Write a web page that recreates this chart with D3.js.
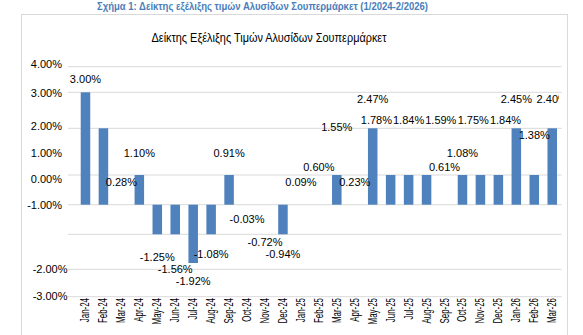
<!DOCTYPE html>
<html>
<head>
<meta charset="utf-8">
<script src="https://cdn.jsdelivr.net/npm/d3@7"></script>
<style>
  html, body { margin: 0; padding: 0; background: #fff; }
  svg { display: block; font-family: "Liberation Sans", Arial, sans-serif; }
</style>
</head>
<body>
<script>
// ---- data ----
const figureTitle = "Σχήμα 1: Δείκτης εξέλιξης τιμών Αλυσίδων Σουπερμάρκετ (1/2024-2/2026)";
const chartTitle = "Δείκτης Εξέλιξης Τιμών Αλυσίδων Σουπερμάρκετ";
const categories = ["Jan-24","Feb-24","Mar-24","Apr-24","May-24","Jun-24","Jul-24","Aug-24","Sep-24","Oct-24","Nov-24","Dec-24",
  "Jan-25","Feb-25","Mar-25","Apr-25","May-25","Jun-25","Jul-25","Aug-25","Sep-25","Oct-25","Nov-25","Dec-25",
  "Jan-26","Feb-26","Mar-26"];
// values printed as data labels
const labelValues = [3.00, null, 0.28, 1.10, -1.25, -1.56, -1.92, -1.08, 0.91, -0.03, -0.72, -0.94,
  0.09, 0.60, 1.55, 0.23, 2.47, 1.78, 1.84, 1.59, 0.61, 1.08, 1.75, 1.84,
  2.45, 1.38, 2.40];
// bar heights as drawn against the value axis
const barValues = [3, 2, 0, 1, -1, -1, -1.82, -1, 1, 0, 0, -1,
  0, 0, 1, 0, 2, 1, 1, 1, 0, 1, 1, 1,
  2, 1, 2];
const yTicks = [4, 3, 2, 1, 0, -1, -2, -3];
// label scale anchor points (values at which data labels sit)
const labelAnchors = [3.0, 2.47, 2.40, 1.84, 1.59, 1.5, 1.38, 1.10, 0.91, 0.61, 0.60, 0.28, 0.09, -0.03, -0.72, -0.94, -1.08, -1.25, -1.56, -1.92];

// ---- layout ----
const W = 583, H = 335;
const svg = d3.select("body").append("svg").attr("width", W).attr("height", H);
svg.append("rect").attr("width", W).attr("height", H).attr("fill", "#fff");

const x = d3.scaleBand().domain(categories).range([76.5, 561.2])
  .paddingInner(0.47).paddingOuter(0.235);
const y = d3.scaleLinear().domain(yTicks)
  .range([66.7, 92.3, 128.3, 175, 204.7, 234.3, 269.3, 296.7]);
const yTickText = d3.scaleLinear().domain(yTicks)
  .range([64, 93, 126, 153, 179, 205, 269, 296]);
const yLabel = d3.scaleLinear().domain(labelAnchors)
  .range([79, 99, 99, 120.5, 120.5, 135, 135, 153, 153, 167, 167, 182, 182, 219, 242, 254, 254, 257, 269.5, 281.5]);
const fmt = v => v.toFixed(2);

// figure caption
svg.append("text").attr("x", 262.5).attr("y", 9.5)
  .attr("text-anchor", "middle").attr("font-size", 10.5).attr("font-weight", "bold")
  .attr("textLength", 331).attr("lengthAdjust", "spacingAndGlyphs")
  .attr("fill", "#4a7ebb").text(figureTitle);

// chart area border
svg.append("rect").attr("x", 21.5).attr("y", 14.5).attr("width", 546).attr("height", 340)
  .attr("fill", "#fff").attr("stroke", "#d9d9d9");

// chart title
svg.append("text").attr("x", 269).attr("y", 41.5)
  .attr("text-anchor", "middle").attr("font-size", 13.5)
  .attr("textLength", 235).attr("lengthAdjust", "spacingAndGlyphs")
  .attr("fill", "#000").text(chartTitle);

// gridlines
svg.append("g").selectAll("line").data(yTicks).join("line")
  .attr("x1", 68).attr("x2", 561.7)
  .attr("y1", d => y(d)).attr("y2", d => y(d))
  .attr("stroke", "#d9d9d9").attr("stroke-width", 1);

// y tick labels
svg.append("g").selectAll("text").data(yTicks).join("text")
  .attr("x", d => d < -1.5 ? 67.5 : 62)
  .attr("y", d => yTickText(d)).attr("dy", "0.35em")
  .attr("text-anchor", "end").attr("font-size", 11).attr("fill", "#000")
  .text(d => fmt(d) + "%");

// bars
const data = categories.map((c, i) => ({ c, bar: barValues[i], label: labelValues[i] }));
svg.append("g").selectAll("rect").data(data.filter(d => d.bar !== 0)).join("rect")
  .attr("x", d => x(d.c)).attr("width", x.bandwidth())
  .attr("y", d => Math.min(y(0), y(d.bar)))
  .attr("height", d => Math.abs(y(d.bar) - y(0)))
  .attr("fill", "#4f81bd");

// x labels (rotated)
svg.append("g").selectAll("text").data(categories).join("text")
  .attr("transform", d => `translate(${x(d) + x.bandwidth() / 2 + 4},298) rotate(-90) scale(0.66,1)`)
  .attr("text-anchor", "end").attr("font-size", 12).attr("fill", "#000")
  .text(d => d);

// data labels
svg.append("clipPath").attr("id", "clipLab").append("rect")
  .attr("x", 22).attr("y", 15).attr("width", 537).attr("height", 320);
const labs = svg.append("g").attr("clip-path", "url(#clipLab)")
  .selectAll("text").data(data.filter(d => d.label !== null)).join("text")
  .attr("y", d => yLabel(d.label)).attr("dy", "0.35em")
  .attr("text-anchor", "middle").attr("font-size", 11).attr("fill", "#000")
  .text(d => fmt(d.label) + "%");

// simple spreading of labels that share a row and collide
const items = [];
labs.each(function (d) {
  items.push({ node: this, cx: x(d.c) + x.bandwidth() / 2, y: yLabel(d.label), w: this.getComputedTextLength() + 1 });
});
items.sort((a, b) => a.cx - b.cx);
const rows = d3.groups(items, it => Math.round(it.y));
rows.forEach(([, row]) => {
  let groups = row.map(it => ({ members: [it] }));
  const layout = g => {
    const total = d3.sum(g.members, m => m.w);
    const mean = d3.mean(g.members, m => m.cx);
    g.left = mean - total / 2; g.right = mean + total / 2;
  };
  groups.forEach(layout);
  let changed = true;
  while (changed) {
    changed = false;
    for (let i = 0; i < groups.length - 1; i++) {
      if (groups[i].right > groups[i + 1].left) {
        groups[i].members = groups[i].members.concat(groups[i + 1].members);
        groups.splice(i + 1, 1);
        layout(groups[i]);
        changed = true;
        break;
      }
    }
  }
  groups.forEach(g => {
    if (g.members.length === 1) { g.members[0].px = g.members[0].cx; return; }
    let pos = g.left;
    g.members.forEach(m => { m.px = pos + m.w / 2; pos += m.w; });
  });
});
items.forEach(it => d3.select(it.node).attr("x", it.px));
</script>
</body>
</html>
